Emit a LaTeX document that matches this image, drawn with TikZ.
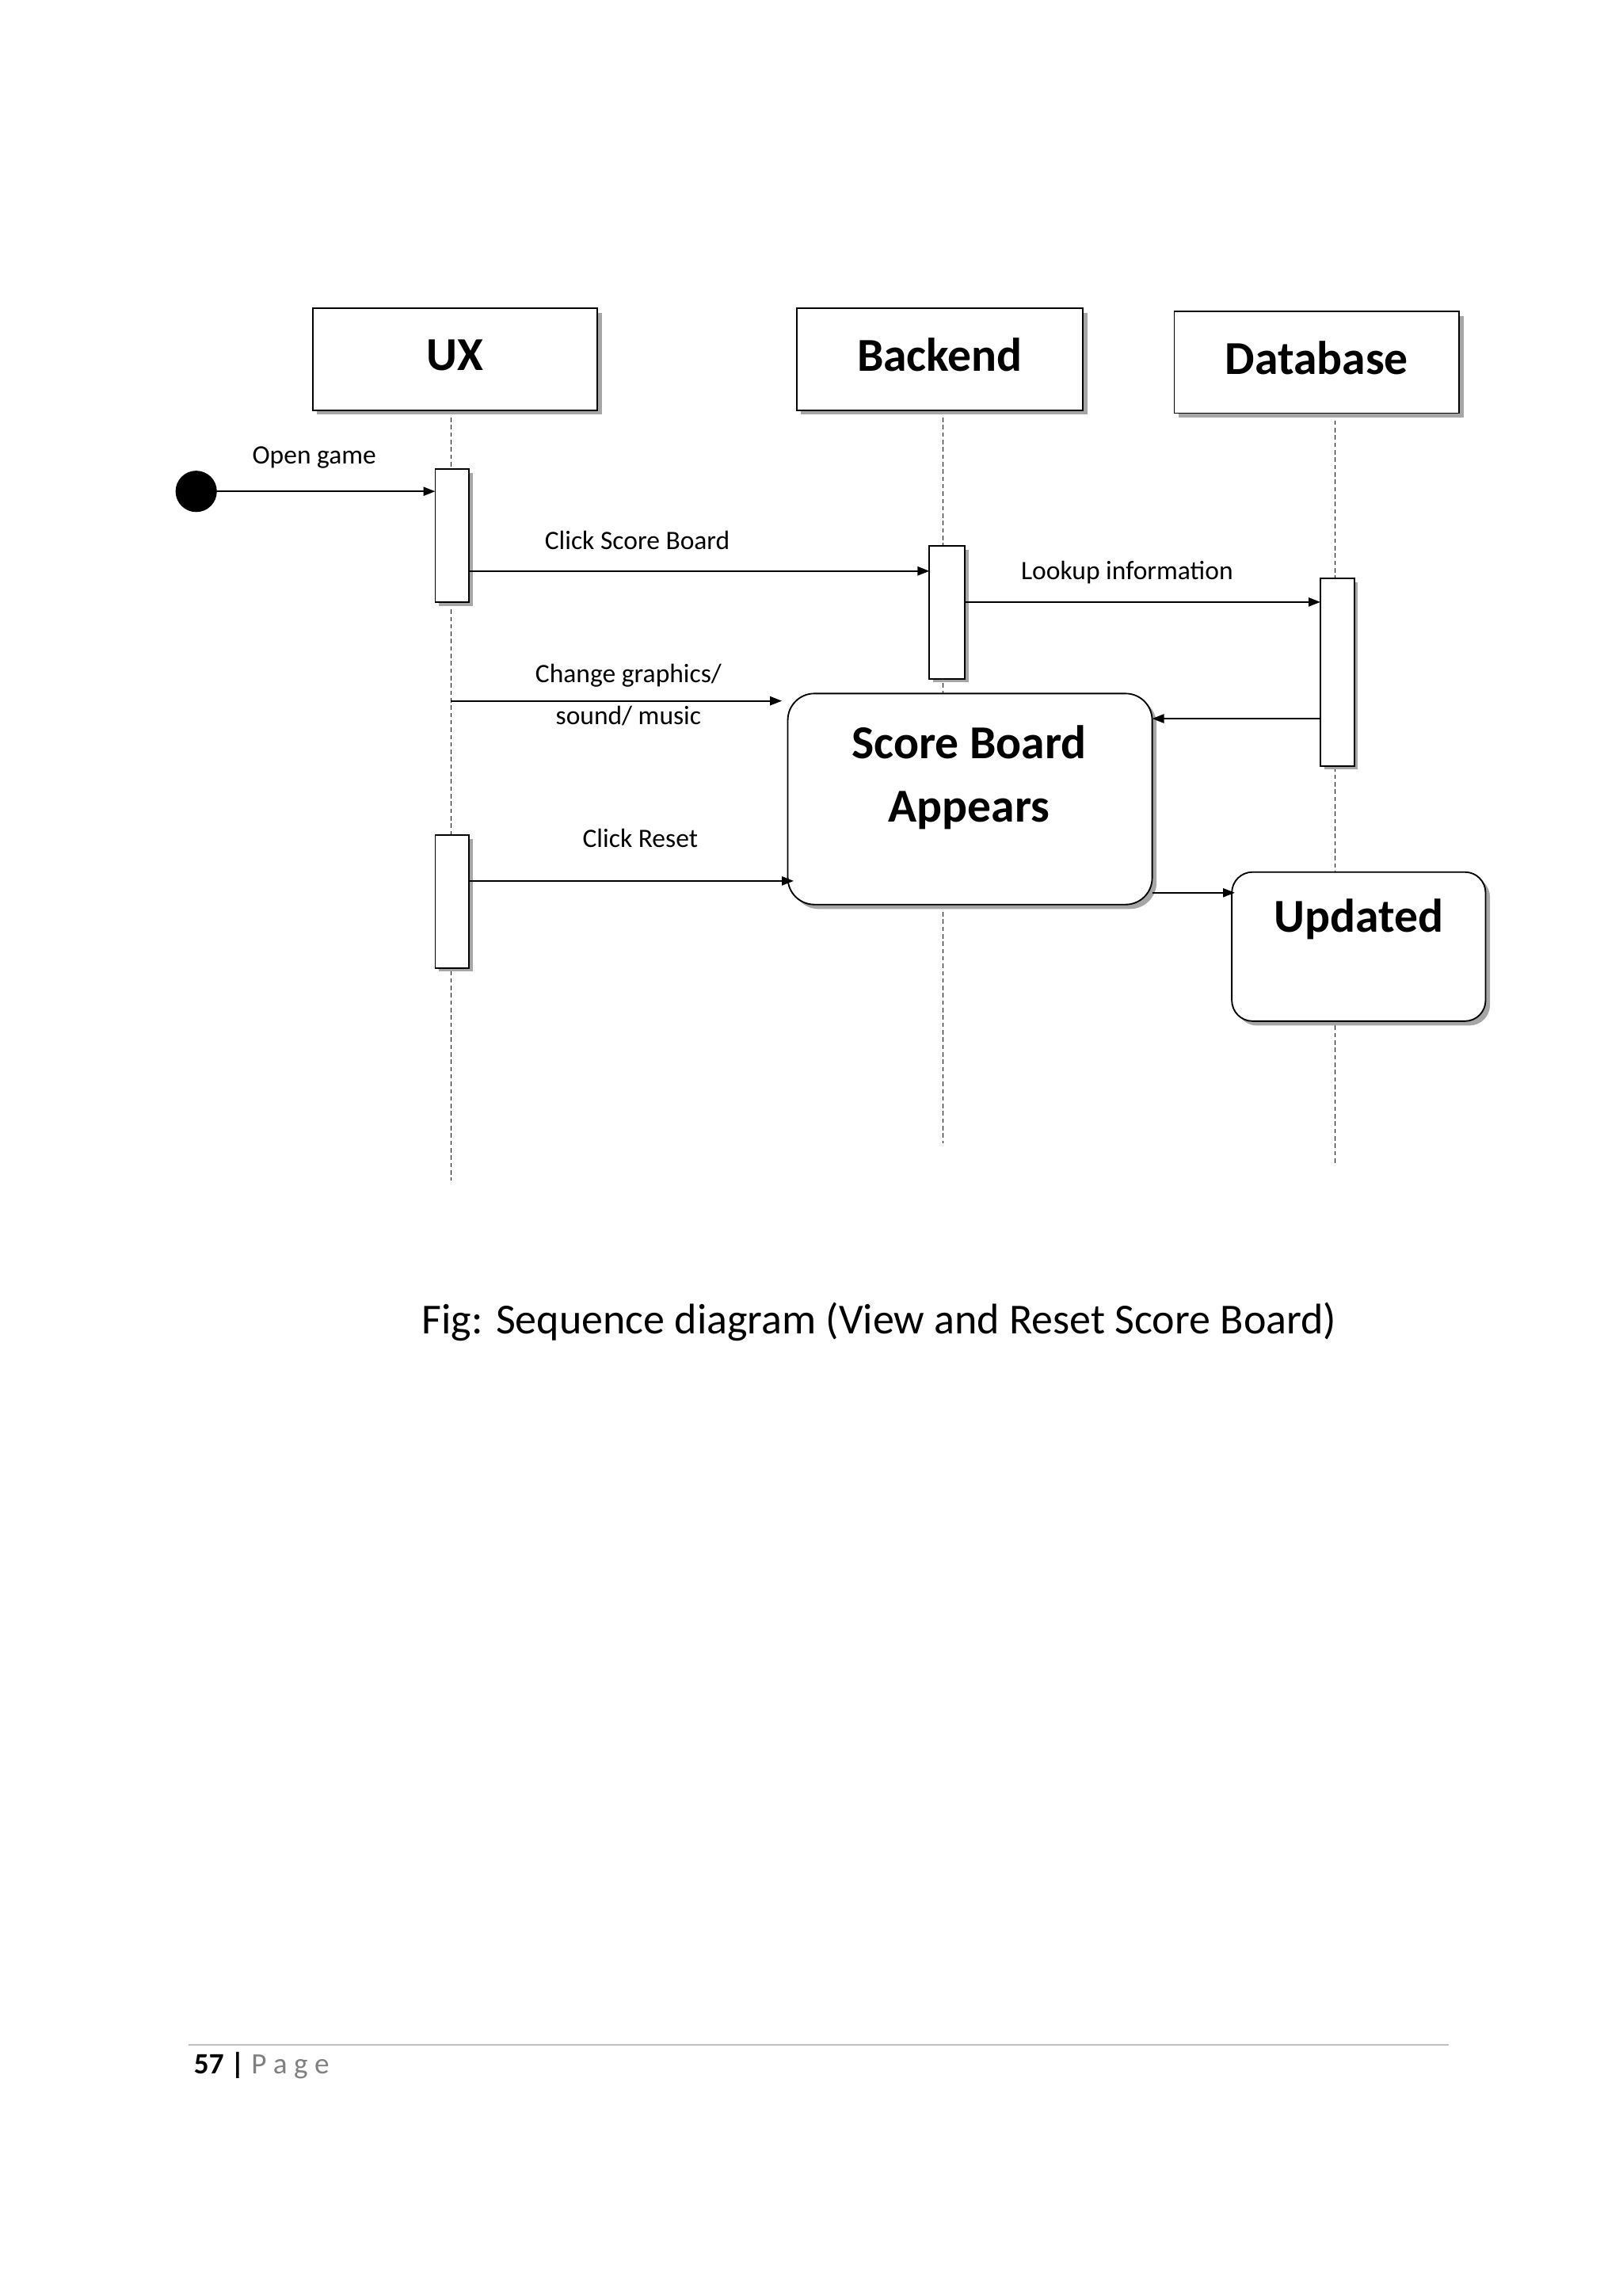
\documentclass[tikz,border=0pt]{standalone}
\usepackage{fontspec}
\setmainfont{Carlito}
\usetikzlibrary{arrows.meta,shadows}
\begin{document}
\begin{tikzpicture}[x=1pt,y=-1pt,
 box/.style={draw,line width=1pt,fill=white,drop shadow={shadow xshift=3pt,shadow yshift=-3pt,fill=gray!70,opacity=1}},
 act/.style={draw,line width=1pt,fill=white,drop shadow={shadow xshift=2.5pt,shadow yshift=-2.5pt,fill=gray!70,opacity=1}},
 life/.style={dash pattern=on 3pt off 2pt,line width=0.6pt},
 msg/.style={-{Triangle[length=8pt,width=6pt]},line width=1pt},
 lbl/.style={font=\fontsize{18}{20}\selectfont},
 title/.style={font=\fontsize{32}{34}\selectfont\bfseries}]
\useasboundingbox (0,0) rectangle (1100,1556);
\draw[life] (306,278) -- (306,800);
\draw[life] (639,278) -- (639,775);
\draw[life] (905,280) -- (905,790);
\node[box,minimum width=193pt,minimum height=69pt,title,inner sep=0pt,text depth=6pt] (ux) at (308.5,243.5) {UX};
\node[box,minimum width=194pt,minimum height=69pt,title,inner sep=0pt,text depth=6pt] (be) at (637,243.5) {Backend};
\node[box,minimum width=193pt,minimum height=69pt,title,inner sep=0pt,text depth=6pt] (db) at (892.5,245.5) {Database};
\fill (133,333) circle (14pt) coordinate (start);
\node[act,minimum width=23pt,minimum height=90pt,inner sep=0pt] (a1) at (306.5,363) {};
\node[act,minimum width=23pt,minimum height=90pt,inner sep=0pt] (a2) at (306.5,611) {};
\node[act,minimum width=24pt,minimum height=90pt,inner sep=0pt] (b1) at (642,415) {};
\node[act,minimum width=23pt,minimum height=127pt,inner sep=0pt] (d1) at (906.5,455.5) {};
\node[box,rounded corners=18pt,minimum width=247pt,minimum height=143pt,inner sep=0pt] (sb) at (657.5,541.5) {};
\node[title] at (657,503) {Score Board};
\node[title] at (657,549) {Appears};
\node[box,rounded corners=14pt,minimum width=172pt,minimum height=101pt,inner sep=0pt] (up) at (921,641.5) {};
\node[title] at (921,623) {Updated};
\draw[msg] (start) -- (295,333);
\node[lbl] at (213,310) {Open game};
\draw[msg] (318,387) -- (630,387);
\node[lbl] at (432,366) {Click Score Board};
\draw[msg] (654,408) -- (895,408);
\node[lbl] at (764,388) {Lookup information};
\draw[msg] (306,475) -- (530,475);
\node[lbl] at (426,458) {Change graphics/};
\node[lbl] at (426,485) {sound/ music};
\draw[msg] (895,487) -- (781,487);
\draw[msg] (318,597) -- (538,597);
\node[lbl] at (434,568) {Click Reset};
\draw[msg] (781,605) -- (837,605);
\node[font=\fontsize{29}{31}\selectfont] at (596,896) {Fig: Sequence diagram (View and Reset Score Board)};
\draw[gray!50,line width=1pt] (128,1386) -- (982,1386);
\node[anchor=west,font=\fontsize{20}{22}\selectfont] at (128,1400) {\textbf{57} \textbf{|} \textcolor{gray}{P a g e}};
\end{tikzpicture}
\end{document}
